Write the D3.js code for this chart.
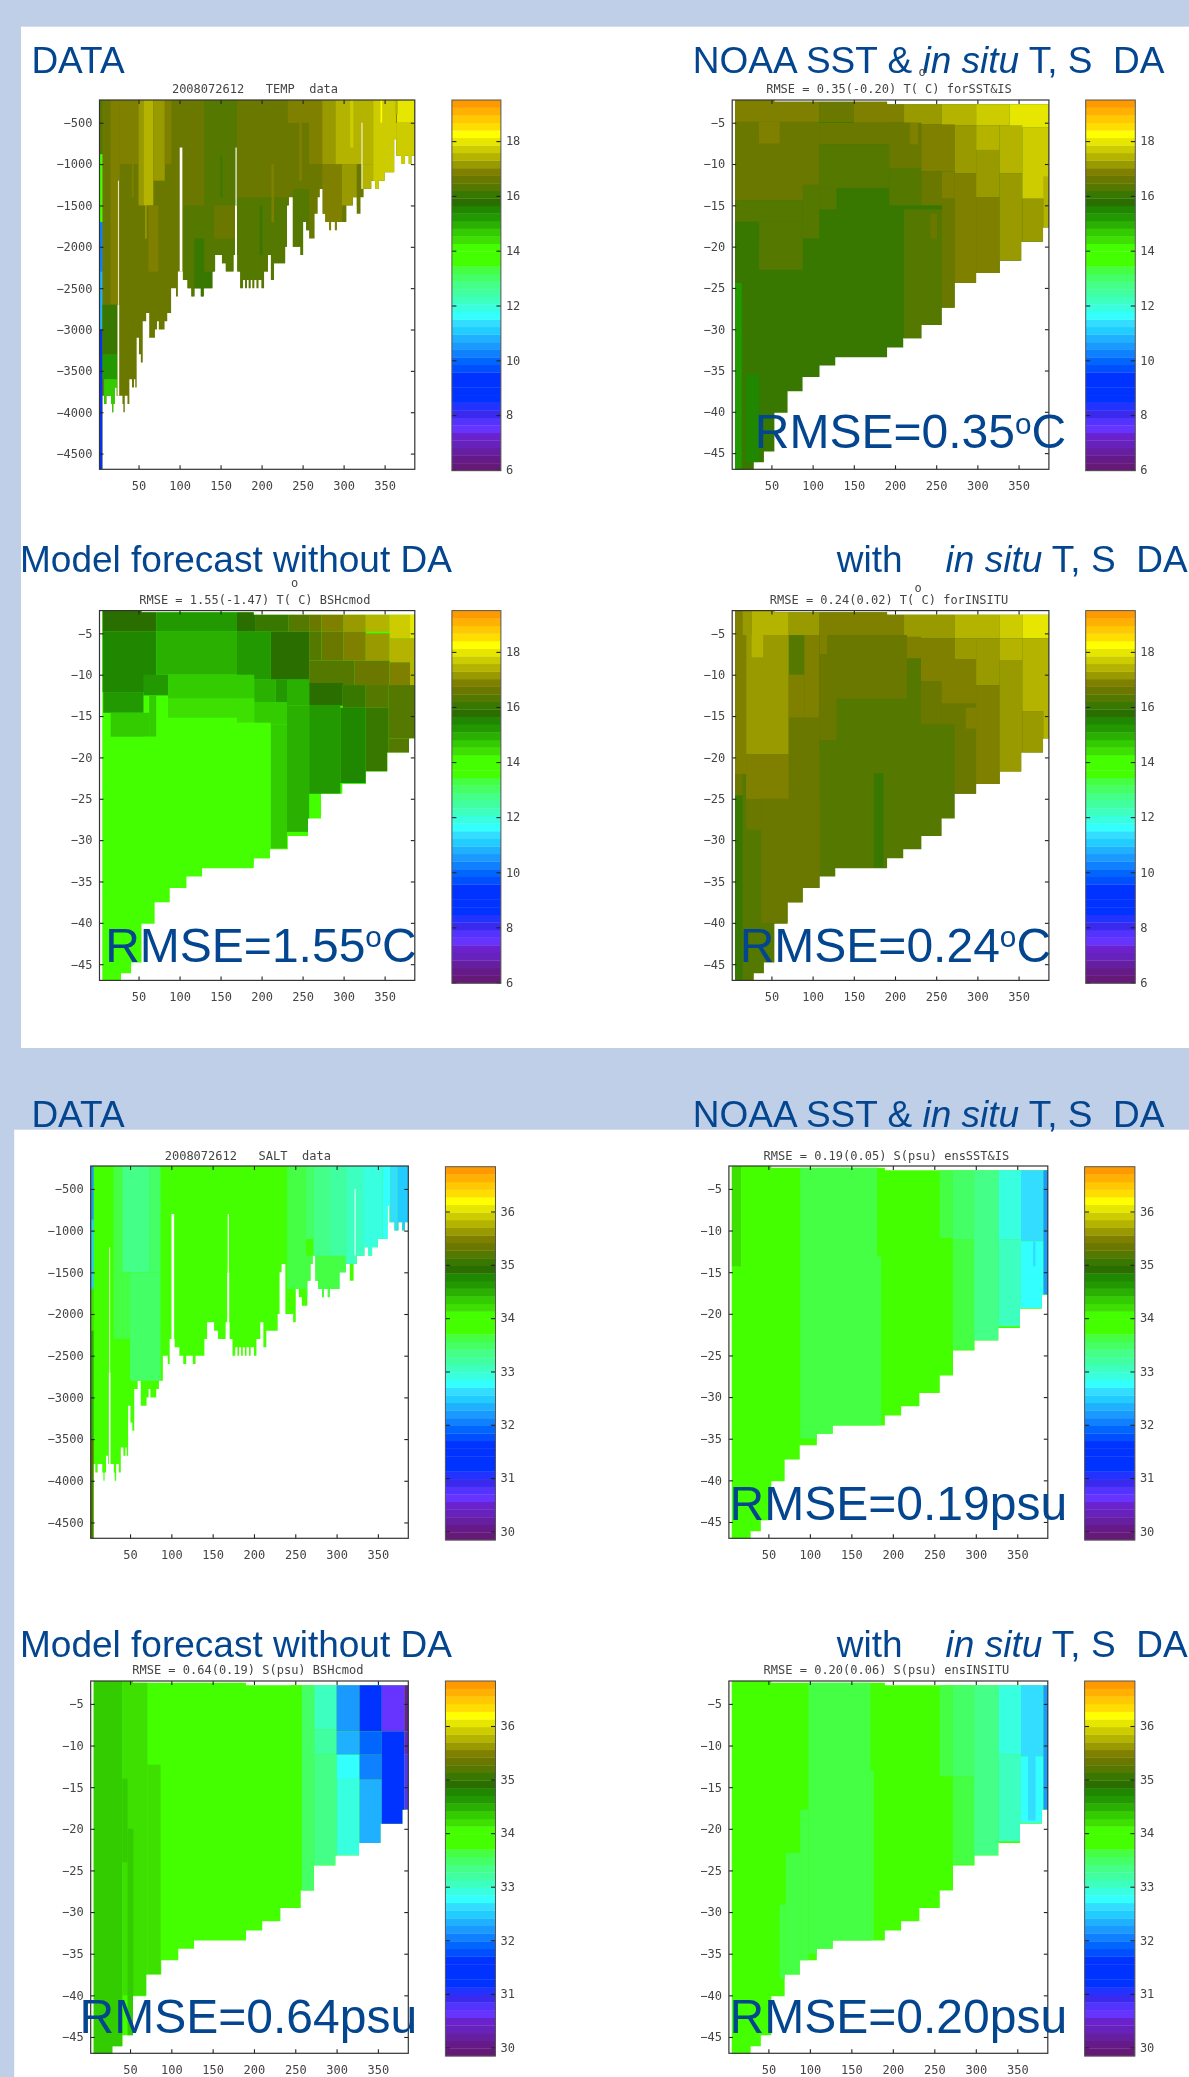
<!DOCTYPE html>
<html>
<head>
<meta charset="utf-8">
<script src="https://cdn.jsdelivr.net/npm/d3@7"></script>
<style>
  body { margin: 0; background: #bfcfe7; }
  svg { display: block; filter: blur(0.55px); }
  .tick text, .small { font-family: "DejaVu Sans Mono", monospace; font-size: 12px; fill: #444; }
  .big { font-family: "Liberation Sans", Arial, sans-serif; fill: #03468f; white-space: pre; }
</style>
</head>
<body>
<svg width="1189" height="2077"></svg>
<script>
///////////// values

// colour bar, top band first
const bandColors = [
  "#ff9900", "#ffb000", "#ffc800", "#ffdd00", "#ffff00", "#e6e600", "#cccc00",
  "#b3b300", "#999900", "#808000", "#6b7800", "#557800", "#387800", "#2a6e00",
  "#1f8800", "#229900", "#2ab000", "#33cc00", "#3de000", "#44ff00", "#44ff00",
  "#44ff00", "#44ff44", "#44ff66", "#44ff88", "#40ffa0", "#3cffc0", "#38ffe0",
  "#33ffff", "#33ddff", "#22ccff", "#1fb0ff", "#1a99ff", "#0f80ff", "#0066ff",
  "#0050ff", "#0033ff", "#0033ff", "#0033ff", "#0033ff", "#2233ff", "#3a2aee",
  "#5533ff", "#6633ff", "#6a22cc", "#6622bb", "#661fa0", "#661a88", "#661a77",
];
const tempRange = [5.97, 19.5];
const saltRange = [29.84, 36.84];
const tempTicks = [6, 8, 10, 12, 14, 16, 18];
const saltTicks = [30, 31, 32, 33, 34, 35, 36];
const xTicks = [50, 100, 150, 200, 250, 300, 350];
const metreTicks = [-500, -1000, -1500, -2000, -2500, -3000, -3500, -4000, -4500];
const levelTicks = [-5, -10, -15, -20, -25, -30, -35, -40, -45];
const xRange = [2.4, 386.8];
const metreRange = [-4690, -225];
const levelRange = [-46.96, -2.25];

// model grid: [x end, top level, bottom level]
const modelSteps = [
  [5.8, -2.25, -47], [28.6, -2.25, -47], [40.9, -2.25, -46.1], [53.6, -2.25, -44.8], [69.6, -2.45, -40.1],
  [87.8, -2.45, -37.5], [108.4, -2.45, -35.8], [127.5, -2.45, -34.4], [190.4, -2.45, -33.4],
  [210, -2.75, -32.2], [232, -2.75, -31.1], [256.6, -2.75, -29.5], [272.5, -2.75, -27.4],
  [298.5, -2.75, -24.4], [327.2, -2.75, -23.2], [353.2, -2.75, -21.7], [379.7, -2.75, -19.4],
  [386.8, -2.75, -17.7],
];

// observed sections: [x end, bottom depth in metres]
const dataSteps = [
  [2.4, -4690], [6.1, -4690], [8, -3800], [10.8, -3900], [16.4, -3800], [17.8, -3900], [19.2, -4000], [21, -3900],
  [23.4, -3700], [24.8, -3800], [28, -3800], [30.4, -3800], [31.5, -3900], [33.2, -4000], [36.5, -3800],
  [38.8, -3900], [42, -3600], [44.4, -3700], [46, -3600], [47.7, -3700], [50.5, -3100], [52.8, -3300],
  [55.1, -3400], [56, -2900], [59.3, -2900], [63, -2800], [70, -3100], [72.5, -3000], [74.7, -2900],
  [78, -3000], [81.7, -3000], [85, -2900], [89.7, -2800], [92.5, -2500], [95.7, -2500], [98, -2600],
  [104, -2300], [109.7, -2400], [114.4, -2500], [118, -2600], [126, -2500], [129.3, -2600], [136.8, -2500],
  [140, -2500], [143.3, -2300], [147, -2100], [151.7, -2100], [156.4, -2200], [165.7, -2300], [170.4, -2100],
  [174, -2300], [177.4, -2500], [180, -2400], [182, -2500], [184.4, -2400], [186.5, -2500], [189, -2400],
  [191, -2500], [194, -2400], [196, -2500], [200, -2400], [203, -2500], [207.7, -2300], [211.4, -2100],
  [215, -2400], [221.7, -2200], [228.7, -2200], [231, -2000], [233.4, -1500], [238, -1400], [247.4, -2000],
  [250.6, -2100], [254.4, -1700], [258, -1800], [264.6, -1900], [268.4, -1600], [271, -1400], [274.4, -1300],
  [277.7, -1600], [282.4, -1700], [284.7, -1800], [289.4, -1700], [291.7, -1800], [303.4, -1700], [311.3, -1500],
  [316, -1400], [320.6, -1600], [324.4, -1400], [333.7, -1300], [338.4, -1200], [343, -1300], [350, -1200],
  [361.7, -1100], [364, -700], [370, -900], [374.8, -1000], [379.4, -900], [382.7, -1000], [386.8, -900],
];
// gaps in the observed sections: [x start, x end, top, bottom]
const dataGaps = [
  [24.9, 25.9, -1200, -2700], [24.4, 26.4, -2700, -3800], [100.2, 103.4, -800, -2300],
  [168.2, 169.6, -800, -1500], [167.6, 170, -1500, -2300], [321.8, 323, -500, -1300],
];

// cells are [x start, x end, top, bottom, value], later cells paint over earlier ones
const tempDataCells = [
  [2, 390, -200, -4700, 16.61], [2.4, 6, -225, -880, 16.33], [2.4, 6, -880, -1700, 14.2],
  [2.4, 6, -1700, -2300, 10.2], [2.4, 6, -2300, -3000, 10.8], [2.4, 6, -3000, -4700, 9.2],
  [16, 27, -225, -2700, 16.88], [6, 24, -2700, -3300, 16.06], [6, 24, -3300, -3600, 15.23],
  [8, 24, -3600, -4100, 14.68], [27, 50, -225, -1000, 16.88], [50, 56, -225, -1500, 17.16],
  [56, 68, -225, -1500, 17.43], [68, 82, -225, -1200, 17.16], [82, 90, -225, -1000, 16.88],
  [62, 74, -1500, -2300, 16.88], [42, 44, -1000, -1400, 16.88], [58, 60, -1500, -1900, 17.16],
  [130, 170, -225, -1500, 16.33], [105, 130, -1500, -2600, 16.33], [118, 142, -1900, -2600, 16.06],
  [130, 142, -1500, -2300, 16.33], [142, 168, -1900, -2300, 16.33], [170, 232, -1400, -2500, 16.33],
  [238, 258, -1300, -2100, 16.33], [232, 262, -225, -500, 16.88], [258, 274, -225, -1000, 16.88],
  [274, 290, -225, -1000, 17.16], [274, 298, -1000, -1800, 16.88], [290, 336, -225, -1000, 17.43],
  [298, 316, -1000, -1500, 17.16], [322, 336, -1000, -1300, 17.43], [336, 364, -225, -1300, 17.71],
  [364, 387, -500, -1000, 17.71], [365, 387, -225, -500, 17.98], [308, 312, -225, -800, 17.71],
  [345, 347, -225, -500, 18.26], [363, 366, -225, -400, 17.43], [150, 152, -900, -1400, 16.06],
  [198, 201, -1500, -2100, 16.06], [212, 215, -1000, -1700, 16.88], [246, 249, -500, -1200, 16.88],
];
const tempSstCells = [
  [2, 390, -2, -48, 16.06],
  [5.8, 108, -2, -4.9, 16.88], [108, 150, -2, -4.9, 16.61], [150, 211, -2, -5, 16.88],
  [211, 256.6, -2, -5.2, 17.16], [256.6, 298.5, -2, -5.3, 17.43], [298.5, 339, -2, -5.3, 17.71],
  [339, 387, -2, -5.6, 17.98], [5.8, 108, -4.9, -14.4, 16.61], [35, 60, -4.9, -7.5, 16.88],
  [108, 218, -5, -7.6, 16.61], [108, 193, -7.6, -12.9, 16.33], [108, 129, -12.9, -15.5, 16.33],
  [193, 232, -5, -10.5, 16.61], [193, 232, -10.5, -15, 16.33], [218, 228, -5, -7.6, 16.88],
  [232, 272.5, -5.2, -10.9, 16.88], [232, 257, -10.9, -15, 16.61], [257, 272.5, -10.9, -14.2, 16.88],
  [211, 257, -15.5, -32, 16.33], [243, 251, -16, -19, 16.61], [257, 272.5, -14.2, -27.4, 16.61],
  [272.5, 298.5, -5.3, -11.1, 17.16], [272.5, 298.5, -11.1, -24.4, 16.88], [298.5, 327, -5.3, -8.3, 17.43],
  [298.5, 327, -8.3, -14, 17.16], [298.5, 327, -14, -23.2, 16.88], [327, 354.6, -5.3, -11.1, 17.43],
  [327, 354.6, -11.1, -21.7, 17.16], [354.6, 387, -5.6, -14.2, 17.71], [354.6, 380, -14.2, -19.4, 17.16],
  [380, 387, -11.5, -17.7, 17.43], [5.8, 88, -14.4, -17, 16.33], [88, 108, -12.5, -19, 16.33],
  [35, 88, -17, -22.8, 16.33], [5.8, 35, -17, -19.8, 16.06], [5.8, 14, -19.8, -24.4, 16.06],
  [5.8, 14, -24.4, -47, 15.23], [19, 35, -35.5, -46.1, 15.5],
];
const tempModelCells = [
  [2, 390, -2, -48, 13.9],
  [6, 71.5, -2, -4.8, 15.78], [71.5, 170, -2, -4.8, 15.23], [170, 193, -2, -4.8, 15.78],
  [193, 233, -2, -4.8, 16.06], [233, 258, -2, -4.8, 16.33], [258, 273, -2, -4.8, 16.61],
  [273, 300, -2, -4.8, 16.88], [300, 327, -2, -4.8, 17.16], [327, 356, -2, -4.8, 17.43],
  [356, 381, -2, -5.6, 17.71], [381, 387, -2, -5.6, 17.98],
  [6, 71.5, -4.8, -12.1, 15.5], [71.5, 170, -4.8, -10, 14.95], [170, 211, -4.8, -10.6, 15.23],
  [211, 258, -4.8, -10.6, 15.78], [258, 273, -4.8, -8.3, 16.33], [273, 300, -4.8, -8.3, 16.61],
  [300, 327, -4.8, -8.3, 16.88], [327, 356, -5, -8.3, 17.16], [356, 387, -5.6, -8.5, 17.43],
  [258, 313, -8.3, -11.25, 16.33], [313, 356, -8.3, -11.25, 16.61], [356, 381, -8.5, -11.25, 16.88],
  [381, 387, -8.5, -11.5, 17.43], [258, 299, -11, -13.75, 15.78], [299, 327, -11.25, -14, 16.06],
  [327, 355, -11.25, -14, 16.33], [355, 387, -11.25, -17.7, 16.33],
  [7, 56, -12.1, -14.6, 15.23], [56, 86, -10, -12.5, 15.23], [86, 191, -10, -12.9, 14.68],
  [191, 217, -10.6, -13.3, 14.95], [217, 231, -10.6, -13.3, 15.23], [231, 258, -10.6, -13.75, 14.95],
  [86, 170, -12.9, -15.2, 14.4], [170, 191, -12.9, -15.8, 14.4], [191, 231, -13.3, -16, 14.68],
  [211, 231, -16, -31, 14.68], [170, 211, -15.8, -33, 14.13], [231, 258, -13.75, -29, 14.95],
  [258, 296, -13.75, -24.4, 15.23], [296, 327, -14, -23.1, 15.5], [327, 355, -14, -21.7, 16.06],
  [355, 381, -17.7, -19.6, 16.33],
  [16, 63, -14.6, -17.5, 14.68], [63, 71.5, -12.5, -17.5, 14.68], [56, 88, -17.5, -37.5, 14.13],
  [42, 60, -28.75, -40, 14.13],
];
const tempInsituCells = [
  [2, 390, -2, -48, 16.33],
  [5.8, 15, -2, -5.2, 16.88], [15, 26, -2, -5.2, 17.16], [26, 71, -2, -5.2, 17.43], [71, 108.4, -2, -5.2, 17.16],
  [108.4, 211, -2, -5.2, 16.88], [211, 272.5, -2, -5.6, 17.16], [272.5, 327, -2, -5.6, 17.43],
  [327, 354.6, -2, -5.6, 17.71], [354.6, 387, -2, -5.6, 17.98],
  [5.8, 19.4, -5.2, -22, 16.88], [5.8, 15, -22, -24.6, 16.61], [15, 22, -24.6, -47, 16.33],
  [5.8, 15, -24.6, -47, 16.06], [37.7, 108.4, -25, -40, 16.61], [19.4, 37.7, -22, -28.75, 16.61],
  [19.4, 71, -5.2, -19.6, 17.16], [26, 40, -5.2, -7.9, 17.43], [71, 90, -10, -15.2, 16.88],
  [90, 108, -5.2, -15.2, 16.88], [71, 108, -15.2, -19, 16.61], [71, 108.4, -19, -40, 16.61],
  [19.4, 71, -19.6, -25, 16.88], [108.4, 128.9, -7.5, -17.9, 16.61], [108.4, 117.5, -5.2, -7.5, 16.88],
  [117.5, 214.6, -5.2, -12.9, 16.61], [174.5, 186, -21.9, -33.3, 16.06], [214.6, 231.5, -5.4, -8, 16.88],
  [231.5, 272.5, -5.6, -10.8, 16.88], [231.5, 256.6, -10.8, -16, 16.61], [256.6, 298.5, -8.1, -13.5, 16.88],
  [272.5, 298.5, -5.6, -8.1, 17.16], [256.6, 298.5, -13.5, -16, 16.61], [272.5, 298.5, -16, -24.6, 16.61],
  [286, 298.5, -14, -16.5, 16.88], [298.5, 327, -5.6, -11.25, 17.16], [298.5, 327, -11.25, -23.3, 16.88],
  [327, 354.6, -5.6, -8.3, 17.43], [327, 354.6, -8.3, -21.9, 17.16], [354.6, 387, -5.6, -14.4, 17.43],
  [354.6, 380, -14.4, -19.6, 17.16], [380, 387, -8.3, -17.7, 17.43],
];
const saltDataCells = [
  [2, 390, -200, -4700, 34],
  [2.4, 6, -225, -870, 32.2], [2.4, 6, -870, -1700, 32.49], [2.4, 6, -1700, -2200, 34.2],
  [2.4, 6, -2200, -3500, 34.48], [2.4, 6, -3500, -4700, 35.2], [30, 40.7, -225, -2300, 33.63],
  [40.7, 73, -225, -1500, 33.34], [50, 87, -1500, -2800, 33.49], [40.7, 50, -1500, -2300, 33.63],
  [73, 87, -225, -1500, 33.49], [240, 263, -225, -1700, 33.63], [263, 272, -225, -1100, 33.49],
  [272, 291, -225, -1500, 33.34], [291, 311.6, -225, -1700, 33.2], [311.6, 332, -225, -1400, 33.06],
  [332, 355.6, -225, -1300, 32.92], [355.6, 365, -225, -1100, 32.77], [365, 374, -225, -1100, 32.63],
  [374, 387, -225, -1100, 32.49], [263, 311, -1300, -1800, 33.63],
];
const saltSstCells = [
  [2, 390, -2, -48, 34],
  [5.7, 17, -2, -14.3, 34.2], [88.4, 181, -2, -35, 33.63], [181, 186, -13.1, -33.4, 33.63],
  [256.5, 272.3, -2, -10.9, 33.63], [272.3, 298, -2, -11.1, 33.49], [272.3, 298, -11.1, -24.3, 33.63],
  [298, 327.4, -2, -23.2, 33.34], [327.4, 354.5, -2, -11.1, 32.92], [327.4, 354.5, -11.1, -21.5, 33.06],
  [354.5, 381.6, -2, -11.3, 32.63], [354.5, 381.6, -11.3, -19.3, 32.77], [369, 372, -11.3, -14.3, 32.63],
  [381.6, 387, -2, -17.7, 32.2],
];
const saltModelCells = [
  [2, 390, -2, -48, 34],
  [6, 40.7, -2, -48, 34.34], [40.7, 71, -2, -40, 34.2], [40.7, 47, -14, -24, 34.34], [47, 54, -20, -46, 34.34],
  [71, 87, -12.3, -37.5, 34.2], [244.5, 258, -2, -5.1, 33.77], [258, 273, -2, -27.5, 33.49],
  [273, 300, -2, -8.1, 33.06], [273, 300, -8.1, -11.1, 33.2], [273, 300, -11.1, -24.4, 33.34],
  [300, 327.8, -2, -8.3, 32.2], [300, 327.8, -8.3, -11.1, 32.34], [300, 327.8, -11.1, -13.9, 32.77],
  [300, 327.8, -13.9, -23.2, 32.92], [327.8, 354.7, -2, -8.3, 31.4], [327.8, 354.7, -8.3, -11.1, 31.9],
  [327.8, 354.7, -11.1, -14.1, 32.06], [327.8, 354.7, -14.1, -22, 32.34], [354.7, 382, -2, -8.3, 30.63],
  [354.7, 382, -8.3, -20, 31.4], [382, 387, -2, -8.3, 30.2], [382, 387, -8.3, -11.1, 30.49],
  [382, 387, -11.1, -17.7, 30.77],
];
const saltInsituCells = [
  [2, 390, -2, -48, 34],
  [98.3, 173, -2, -35, 33.63], [88.4, 98.3, -17.7, -36, 33.63], [71, 88.4, -22.9, -38, 33.63],
  [63.6, 71, -29.1, -38, 33.63], [173, 177, -13, -33.4, 33.63], [256.5, 272.3, -2, -13.7, 33.63],
  [272.3, 298, -2, -13.7, 33.49], [272.3, 298, -13.7, -24.3, 33.63], [298, 327.4, -2, -23.2, 33.34],
  [327.4, 354.5, -2, -11.1, 32.92], [327.4, 354.5, -11.1, -21.5, 33.06], [354.5, 381.6, -2, -11.3, 32.63],
  [354.5, 381.6, -11.3, -19.3, 32.77], [363, 372, -8, -19, 32.63], [381.6, 387, -2, -17.7, 32.2],
];

///////////// layout of the eight panels
const panels = [
  { id: "p1", title: "2008072612   TEMP  data", titleX: 255, titleY: 93, box: [99.5, 414.8, 100, 469.3], bar: [451.9, 500.9, 100, 470.7], cells: tempDataCells, salt: false, obs: true },
  { id: "p2", title: "RMSE = 0.35(-0.20) T( C) forSST&IS", titleX: 889, titleY: 93, box: [732.2, 1048.9, 100, 469.3], bar: [1085.7, 1135.3, 100, 470.7], cells: tempSstCells, salt: false },
  { id: "p3", title: "RMSE = 1.55(-1.47) T( C) BSHcmod", titleX: 254.8, titleY: 604.4, box: [99.5, 414.8, 610.6, 980.4], bar: [451.9, 500.9, 610.6, 983.2], cells: tempModelCells, salt: false },
  { id: "p4", title: "RMSE = 0.24(0.02) T( C) forINSITU", titleX: 889, titleY: 604.4, box: [732.2, 1048.9, 610.6, 980.4], bar: [1085.7, 1135.3, 610.6, 983.2], cells: tempInsituCells, salt: false },
  { id: "p5", title: "2008072612   SALT  data", titleX: 247.8, titleY: 1160, box: [90.7, 408.3, 1166, 1538.3], bar: [445.4, 495.5, 1166.7, 1540], cells: saltDataCells, salt: true, obs: true },
  { id: "p6", title: "RMSE = 0.19(0.05) S(psu) ensSST&IS", titleX: 886.4, titleY: 1160, box: [728.9, 1047.8, 1166, 1538.3], bar: [1084.6, 1134.9, 1166.7, 1540], cells: saltSstCells, salt: true },
  { id: "p7", title: "RMSE = 0.64(0.19) S(psu) BSHcmod", titleX: 247.8, titleY: 1674, box: [90.7, 408.3, 1681, 2053.3], bar: [445.4, 495.5, 1681, 2056], cells: saltModelCells, salt: true },
  { id: "p8", title: "RMSE = 0.20(0.06) S(psu) ensINSITU", titleX: 886.4, titleY: 1674, box: [728.9, 1047.8, 1681, 2053.3], bar: [1084.6, 1134.9, 1681, 2056], cells: saltInsituCells, salt: true },
];

const svg = d3.select("svg");
svg.append("rect").attr("width", 1189).attr("height", 2077).attr("fill", "#bfcfe7");
// the two white slides behind the plots
svg.append("rect").attr("x", 21).attr("y", 26.7).attr("width", 1168).attr("height", 1021.3).attr("fill", "#fff");
svg.append("rect").attr("x", 14.2).attr("y", 1129.7).attr("width", 1175).attr("height", 947.3).attr("fill", "#fff");

panels.forEach(drawPanel);

function drawPanel(p) {
  const [left, right, top, bottom] = p.box;
  const x = d3.scaleLinear().domain(xRange).range([left, right]);
  const y = d3.scaleLinear().domain(p.obs ? metreRange : levelRange).range([bottom, top]);
  const range = p.salt ? saltRange : tempRange;
  // value to colour band, scale range runs low to high so reverse the list
  const color = d3.scaleQuantize().domain(range).range(bandColors.slice().reverse());

  const g = svg.append("g");

  // clip the cells to the sea floor, one step outline so the rect edges dont show
  const area = d3.area().curve(d3.curveStepBefore).x((d) => x(d[0]));
  if (p.obs) {
    area.y0(y(metreRange[1])).y1((d) => y(d[1]));
  } else {
    area.y0((d) => y(d[1])).y1((d) => y(d[2]));
  }
  g.append("clipPath").attr("id", "clip-" + p.id)
    .append("path").attr("d", area(p.obs ? dataSteps : modelSteps));

  g.append("g").attr("clip-path", "url(#clip-" + p.id + ")")
    .selectAll("rect").data(p.cells).join("rect")
    .attr("x", (d) => x(d[0]))
    .attr("width", (d) => x(d[1]) - x(d[0]))
    .attr("y", (d) => y(d[2]))
    .attr("height", (d) => y(d[3]) - y(d[2]))
    .attr("fill", (d) => color(d[4]));

  if (p.obs) {
    g.append("g").selectAll("rect").data(dataGaps).join("rect")
      .attr("x", (d) => x(d[0]))
      .attr("width", (d) => x(d[1]) - x(d[0]))
      .attr("y", (d) => y(d[2]))
      .attr("height", (d) => y(d[3]) - y(d[2]))
      .attr("fill", "#fff");
  }

  // axes on all four sides, ticks point inward, only bottom and left get labels
  const yTicks = p.obs ? metreTicks : levelTicks;
  const fmt = d3.format("d");
  addAxis(g, d3.axisBottom(x).tickValues(xTicks).tickSize(-4).tickPadding(12).tickFormat(fmt), 0, bottom);
  addAxis(g, d3.axisTop(x).tickValues(xTicks).tickSize(-4).tickFormat(""), 0, top);
  addAxis(g, d3.axisLeft(y).tickValues(yTicks).tickSize(-4).tickPadding(7).tickFormat(fmt), left, 0);
  addAxis(g, d3.axisRight(y).tickValues(yTicks).tickSize(-4).tickFormat(""), right, 0);

  g.append("rect").attr("x", left).attr("y", top)
    .attr("width", right - left).attr("height", bottom - top)
    .attr("fill", "none").attr("stroke", "#333").attr("stroke-width", 1.2);

  g.append("text").attr("class", "small").attr("x", p.titleX).attr("y", p.titleY)
    .attr("text-anchor", "middle").style("white-space", "pre").text(p.title);

  drawBar(g, p, color, range);
}

function addAxis(g, axis, tx, ty) {
  const a = g.append("g").attr("transform", "translate(" + tx + "," + ty + ")").call(axis);
  a.select(".domain").remove();
  a.selectAll("line").attr("stroke", "#222").attr("stroke-width", 1.1);
}

function drawBar(g, p, color, range) {
  const [left, right, top, bottom] = p.bar;
  const v = d3.scaleLinear().domain(range).range([bottom, top]);
  const ticks = p.salt ? saltTicks : tempTicks;
  const fmt = d3.format("d");
  // some colours repeat so go by band index, invertExtent only finds the first one
  const step = (range[1] - range[0]) / bandColors.length;

  g.append("g").selectAll("rect").data(color.range()).join("rect")
    .attr("x", left)
    .attr("width", right - left)
    .attr("y", (d, i) => v(range[0] + (i + 1) * step))
    .attr("height", (d, i) => v(range[0] + i * step) - v(range[0] + (i + 1) * step) + 0.3)
    .attr("fill", (d) => d);

  // left edge ticks go right, right edge ticks go left
  addAxis(g, d3.axisRight(v).tickValues(ticks).tickSize(4.5).tickFormat(""), left, 0);
  addAxis(g, d3.axisRight(v).tickValues(ticks).tickSize(-4.5).tickPadding(5).tickFormat(fmt), right, 0);

  g.append("rect").attr("x", left).attr("y", top)
    .attr("width", right - left).attr("height", bottom - top)
    .attr("fill", "none").attr("stroke", "#555").attr("stroke-width", 1);
}

///////////// the big slide labels
function bigText(x, y, size, parts) {
  const t = svg.append("text").attr("class", "big").attr("x", x).attr("y", y).attr("font-size", size);
  parts.forEach((part) => {
    const s = t.append("tspan").text(part.s);
    if (part.i) s.attr("font-style", "italic");
    if (part.sup) s.attr("font-size", size * 0.62).attr("dy", -size * 0.3);
    if (part.back) s.attr("dy", size * 0.3);
  });
}

const noaaParts = [{ s: "NOAA SST & " }, { s: "in situ", i: true }, { s: " T, S  DA" }];
const insituParts = [{ s: "in situ", i: true }, { s: " T, S  DA" }];

[[73.3, 572.3], [1126.7, 1656.7]].forEach(([upper, lower]) => {
  bigText(31.4, upper, 37, [{ s: "DATA" }]);
  bigText(692.8, upper, 37, noaaParts);
  bigText(20, lower, 37, [{ s: "Model forecast without DA" }]);
  bigText(836.7, lower, 37, [{ s: "with" }]);
  bigText(945.6, lower, 37, insituParts);
});

function rmseC(x, y, num) {
  bigText(x, y, 48, [{ s: "RMSE=" + num }, { s: "o", sup: true }, { s: "C", back: true }]);
}
rmseC(754.8, 448.3, "0.35");
rmseC(105.2, 961.8, "1.55");
rmseC(739.7, 961.8, "0.24");
bigText(729.6, 1520, 48, [{ s: "RMSE=0.19psu" }]);
bigText(79.6, 2032.7, 48, [{ s: "RMSE=0.64psu" }]);
bigText(729.6, 2032.7, 48, [{ s: "RMSE=0.20psu" }]);

// the small degree signs that float over the plot titles
[[922, 76], [294.6, 587], [918, 592]].forEach(([x, y]) => {
  svg.append("text").attr("class", "small").attr("x", x).attr("y", y)
    .attr("text-anchor", "middle").text("o");
});
</script>
</body>
</html>
